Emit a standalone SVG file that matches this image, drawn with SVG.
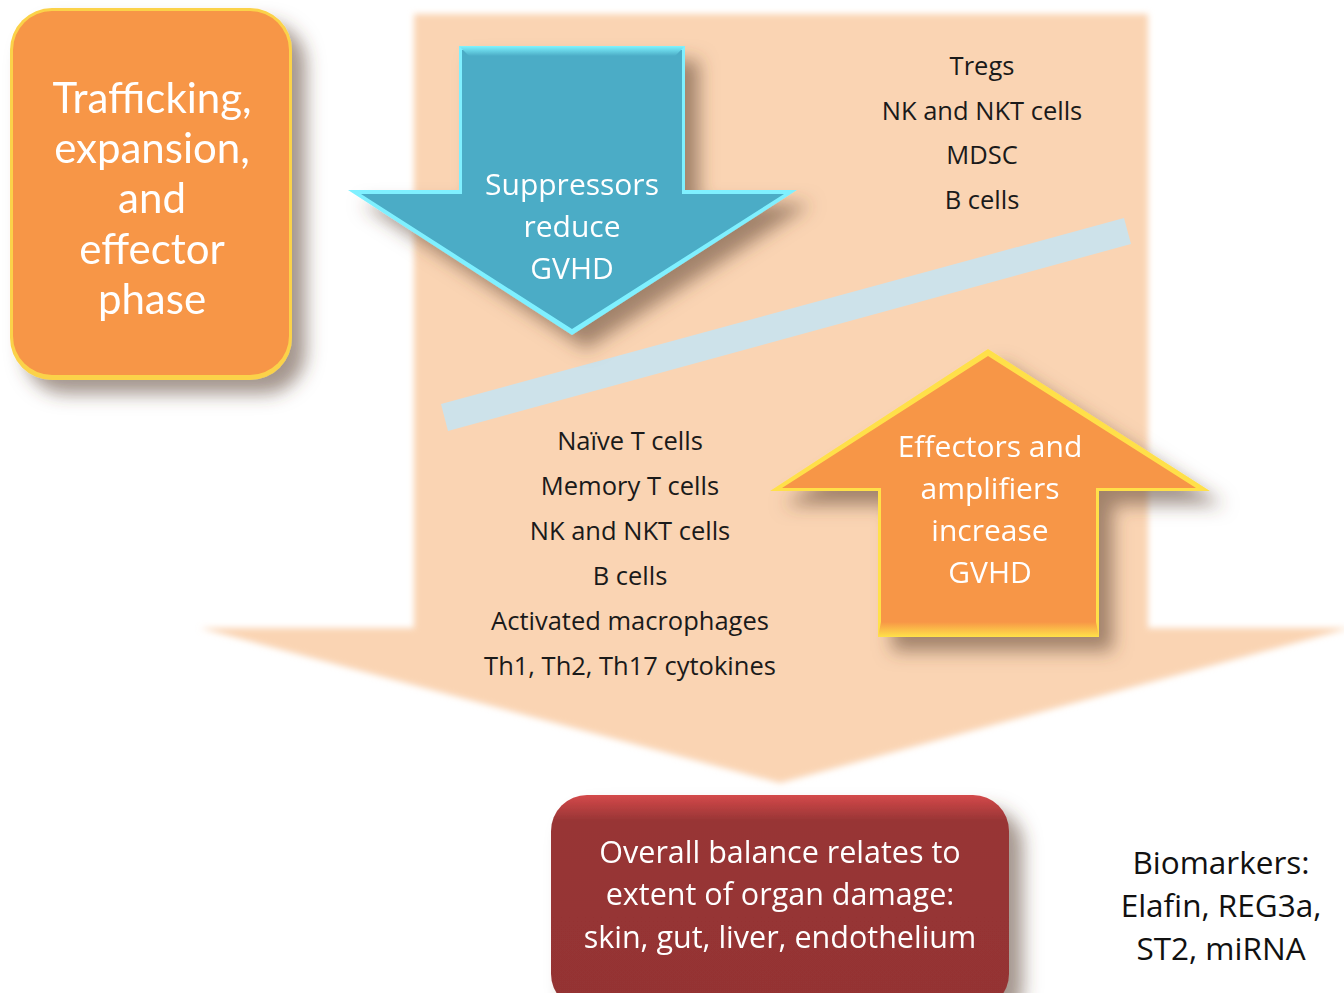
<svg xmlns="http://www.w3.org/2000/svg" width="1344" height="993" viewBox="0 0 1344 993">
<defs>
<style>
.lst{font-family:"Open Sans","Liberation Sans",sans-serif;font-size:25.5px;fill:#1a1a1a;text-anchor:middle}
.wt{font-family:"Open Sans","Liberation Sans",sans-serif;fill:#ffffff;text-anchor:middle}
.wl{font-family:Lato,"Open Sans",sans-serif;fill:#ffffff;text-anchor:middle}
.bio{font-family:"Open Sans","Liberation Sans",sans-serif;font-size:31.5px;fill:#111;text-anchor:middle}
</style>
<filter id="soft" x="-5%" y="-5%" width="110%" height="110%"><feGaussianBlur stdDeviation="3"/></filter>
<filter id="shadow" x="-20%" y="-20%" width="150%" height="150%">
<feGaussianBlur in="SourceAlpha" stdDeviation="9"/>
<feOffset dx="14" dy="14" result="b"/>
<feFlood flood-color="#5a4030" flood-opacity="0.55"/>
<feComposite in2="b" operator="in" result="s"/>
<feMerge><feMergeNode in="s"/><feMergeNode in="SourceGraphic"/></feMerge>
</filter>
<linearGradient id="cyanEdge" x1="0" y1="0" x2="0" y2="1"><stop offset="0" stop-color="#7ff4ff"/><stop offset="1" stop-color="#4bacc6"/></linearGradient>
<linearGradient id="yelEdge" x1="0" y1="1" x2="0" y2="0"><stop offset="0" stop-color="#ffe24a"/><stop offset="1" stop-color="#f79646"/></linearGradient>
<linearGradient id="redG" x1="0" y1="0" x2="0" y2="1"><stop offset="0" stop-color="#d4494a"/><stop offset="0.12" stop-color="#983535"/><stop offset="1" stop-color="#943333"/></linearGradient>
</defs>

<rect width="1344" height="993" fill="#ffffff"/>

<g id="big-arrow">
<polygon points="414,14 1148,14 1148,628 1350,628 780,783 200,628 414,628" fill="#fad4b3" filter="url(#soft)"/>
</g>

<g id="balance-bar">
<polygon points="441,404 1124,218 1131,244 448,431" fill="#cde2ea"/>
</g>

<g id="phase-box" filter="url(#shadow)">
<rect x="10" y="8" width="282" height="372" rx="42" fill="#fbd24a"/>
<rect x="13" y="11" width="276" height="364" rx="39" fill="#f79646"/>
<text class="wl" font-size="42"><tspan x="152" y="113">Trafficking,</tspan><tspan x="152" y="163">expansion,</tspan><tspan x="152" y="213">and</tspan><tspan x="152" y="264">effector</tspan><tspan x="152" y="314">phase</tspan></text>
</g>

<g id="suppressors-arrow" filter="url(#shadow)">
<polygon points="459,46 685,46 685,190 797,190 572,335 348,190 459,190" fill="#7ff0ff"/>
<polygon points="462,50 682,50 682,194 784,194 572,329 361,194 462,194" fill="#4bacc6"/>
<polygon points="459,46 685,46 675,56 469,56" fill="url(#cyanEdge)"/>
<text class="wt" font-size="30"><tspan x="572" y="195">Suppressors</tspan><tspan x="572" y="237">reduce</tspan><tspan x="572" y="279">GVHD</tspan></text>
</g>

<g id="effectors-arrow" filter="url(#shadow)">
<polygon points="988,349 1210,491 1099,491 1099,637 878,637 878,491 770,491" fill="#ffe04a"/>
<polygon points="988,356 1196,488 1096,488 1096,626 881,626 881,488 782,488" fill="#f79646"/>
<polygon points="881,622 1096,622 1099,637 878,637" fill="url(#yelEdge)"/>
<text class="wt" font-size="30"><tspan x="990" y="457">Effectors and</tspan><tspan x="990" y="499">amplifiers</tspan><tspan x="990" y="541">increase</tspan><tspan x="990" y="583">GVHD</tspan></text>
</g>

<g id="suppressor-list">
<text class="lst"><tspan x="982" y="75">Tregs</tspan><tspan x="982" y="120">NK and NKT cells</tspan><tspan x="982" y="164">MDSC</tspan><tspan x="982" y="209">B cells</tspan></text>
</g>

<g id="effector-list">
<text class="lst"><tspan x="630" y="450">Naïve T cells</tspan><tspan x="630" y="495">Memory T cells</tspan><tspan x="630" y="540">NK and NKT cells</tspan><tspan x="630" y="585">B cells</tspan><tspan x="630" y="630">Activated macrophages</tspan><tspan x="630" y="675">Th1, Th2, Th17 cytokines</tspan></text>
</g>

<g id="outcome-box" filter="url(#shadow)">
<rect x="551" y="795" width="458" height="215" rx="36" fill="url(#redG)"/>
<text class="wt" font-size="30.5"><tspan x="780" y="863">Overall balance relates to</tspan><tspan x="780" y="905">extent of organ damage:</tspan><tspan x="780" y="948">skin, gut, liver, endothelium</tspan></text>
</g>

<g id="biomarkers">
<text class="bio"><tspan x="1221" y="874">Biomarkers:</tspan><tspan x="1221" y="917">Elafin, REG3a,</tspan><tspan x="1221" y="960">ST2, miRNA</tspan></text>
</g>

<g id="connectors"></g>
</svg>
